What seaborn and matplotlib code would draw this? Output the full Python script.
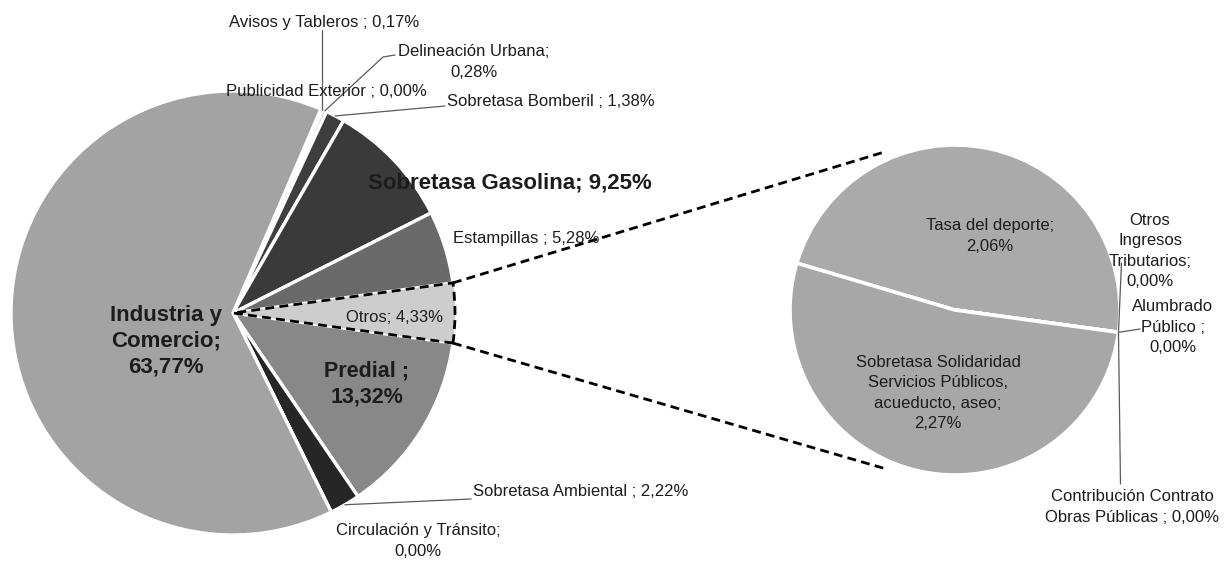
import numpy as np
import matplotlib
matplotlib.use("Agg")
import matplotlib.pyplot as plt
import seaborn as sns

# ---- data -------------------------------------------------------------
# main pie, clockwise order
main_names = ["Publicidad Exterior", "Avisos y Tableros", "Delineación Urbana",
              "Sobretasa Bomberil", "Sobretasa Gasolina", "Estampillas", "Otros",
              "Predial", "Sobretasa Ambiental", "Circulación y Tránsito",
              "Industria y Comercio"]
main_values = [0.00, 0.17, 0.28, 1.38, 9.25, 5.28, 4.33, 13.32, 2.22, 0.00, 63.77]

# breakdown of "Otros", clockwise order
sub_names = ["Tasa del deporte", "Otros Ingresos Tributarios", "Alumbrado Público",
             "Contribución Contrato Obras Públicas",
             "Sobretasa Solidaridad Servicios Públicos, acueducto, aseo"]
sub_values = [2.06, 0.00, 0.00, 0.00, 2.27]

# label templates ("{}" is replaced by the formatted percentage)
main_label_tpl = ["Publicidad Exterior ; {}", "Avisos y Tableros ; {}",
                  "Delineación Urbana;\n{}", "Sobretasa Bomberil ; {}",
                  "Sobretasa Gasolina; {}", "Estampillas ; {}", "Otros; {}",
                  "Predial ;\n{}", "Sobretasa Ambiental ; {}",
                  "Circulación y Tránsito;\n{}", "Industria y\nComercio;\n{}"]
sub_label_tpl = ["Tasa del deporte;\n{}", "Otros\nIngresos\nTributarios;\n{}",
                 "Alumbrado\nPúblico ;\n{}", "Contribución Contrato\nObras Públicas ; {}",
                 "Sobretasa Solidaridad\nServicios Públicos,\nacueducto, aseo;\n{}"]


def pct(v):
    return f"{v:.2f}".replace(".", ",") + "%"


# ---- styling ------------------------------------------------------------
sns.set_theme(style="white")
plt.rcParams["font.family"] = ["Liberation Sans", "DejaVu Sans"]

main_colors = ["#9a9a9a", "#9c9c9c", "#8a8a8a", "#3e3e3e", "#3a3a3a", "#6a6a6a",
               "#cdcdcd", "#888888", "#262626", "#555555", "#a3a3a3"]
sub_colors = ["#aaaaaa", "#aaaaaa", "#aaaaaa", "#aaaaaa", "#a7a7a7"]

W, H = 1224, 562
fig = plt.figure(figsize=(W / 100, H / 100), dpi=100)
ax = fig.add_axes([0, 0, 1, 1])


def P(x, y):
    """pixel position measured from the top-left corner -> data coords"""
    return x, H - y


# ---- main pie -----------------------------------------------------------
c1 = np.array(P(233, 313))
r1 = 222
total = sum(main_values)
i_otros = main_names.index("Otros")
start1 = 360 * (sum(main_values[:i_otros]) + main_values[i_otros] / 2) / total

w1, _ = ax.pie(main_values, colors=main_colors, startangle=start1,
               counterclock=False, center=tuple(c1), radius=r1, frame=True,
               wedgeprops=dict(edgecolor="white", linewidth=2.4))
ow = w1[i_otros]
ow.set_edgecolor("black")
ow.set_linestyle((0, (3.2, 1.9)))
ow.set_linewidth(2.0)
ow.set_zorder(5)

# ---- secondary pie ------------------------------------------------------
c2 = np.array(P(955, 310))
r2 = 165
w2, _ = ax.pie(sub_values, colors=sub_colors, startangle=163.5,
               counterclock=False, center=tuple(c2), radius=r2, frame=True,
               wedgeprops=dict(edgecolor="white", linewidth=2.6))

# ---- connector lines ----------------------------------------------------
for th1, th2 in [(ow.theta2, 114.5), (ow.theta1, -113.5)]:
    a = np.deg2rad(th1)
    b = np.deg2rad(th2)
    p0 = c1 + r1 * np.array([np.cos(a), np.sin(a)])
    p1 = c2 + r2 * 1.05 * np.array([np.cos(b), np.sin(b)])
    ax.plot([p0[0], p1[0]], [p0[1], p1[1]], color="black", lw=2.0,
            ls=(0, (3.2, 1.9)), zorder=6, solid_capstyle="butt")


def rim(wedges, i, center, radius):
    w = wedges[i]
    m = np.deg2rad((w.theta1 + w.theta2) / 2)
    return center + radius * np.array([np.cos(m), np.sin(m)])


# ---- labels -------------------------------------------------------------
main_pos = {
    "Publicidad Exterior": (226, 92, "left", 12, "normal"),
    "Avisos y Tableros": (229, 22, "left", 12, "normal"),
    "Delineación Urbana": (474, 62, "center", 12, "normal"),
    "Sobretasa Bomberil": (447, 101, "left", 12, "normal"),
    "Sobretasa Gasolina": (368, 183, "left", 16, "bold"),
    "Estampillas": (453, 238, "left", 12, "normal"),
    "Otros": (346, 317, "left", 12, "normal"),
    "Predial": (367, 384, "center", 15.5, "bold"),
    "Sobretasa Ambiental": (473, 492, "left", 12, "normal"),
    "Circulación y Tránsito": (418, 541, "center", 12, "normal"),
    "Industria y Comercio": (166, 341, "center", 16, "bold"),
}
sub_pos = {
    "Tasa del deporte": (990, 236, "center", 12, "normal"),
    "Otros Ingresos Tributarios": (1150, 251, "center", 12, "normal"),
    "Alumbrado Público": (1173, 327, "center", 12, "normal"),
    "Contribución Contrato Obras Públicas": (1132, 507, "center", 12, "normal"),
    "Sobretasa Solidaridad Servicios Públicos, acueducto, aseo":
        (938, 393, "center", 12, "normal"),
}


def put(pos, text):
    x, y, ha, fs, fw = pos
    ls = 1.3 if fw == "bold" else 1.42
    ax.text(*P(x, y), text, ha=ha, va="center", fontsize=fs, fontweight=fw,
            color="#1c1c1c", linespacing=ls, multialignment="center", zorder=8)


for name, tpl, v in zip(main_names, main_label_tpl, main_values):
    put(main_pos[name], tpl.format(pct(v)))
for name, tpl, v in zip(sub_names, sub_label_tpl, sub_values):
    put(sub_pos[name], tpl.format(pct(v)))

# ---- leader lines -------------------------------------------------------
lead = dict(color="#5a5a5a", lw=0.9, zorder=7)

p = rim(w1, main_names.index("Avisos y Tableros"), c1, r1)
ax.plot([p[0], p[0]], [p[1], P(0, 30)[1]], **lead)

p = rim(w1, main_names.index("Delineación Urbana"), c1, r1)
q1, q2 = P(383, 57), P(395, 55)
ax.plot([p[0], q1[0], q2[0]], [p[1], q1[1], q2[1]], **lead)

p = rim(w1, main_names.index("Sobretasa Bomberil"), c1, r1)
q = P(445, 106)
ax.plot([p[0], q[0]], [p[1], q[1]], **lead)

p = rim(w1, main_names.index("Sobretasa Ambiental"), c1, r1)
q = P(471, 499)
ax.plot([p[0], q[0]], [p[1], q[1]], **lead)

p = rim(w2, sub_names.index("Otros Ingresos Tributarios"), c2, r2)
ax.plot([p[0], p[0] + 3], [p[1], P(0, 263)[1]], **lead)
p = rim(w2, sub_names.index("Alumbrado Público"), c2, r2)
q = P(1140, 329)
ax.plot([p[0], q[0]], [p[1], q[1]], **lead)
p = rim(w2, sub_names.index("Contribución Contrato Obras Públicas"), c2, r2)
ax.plot([p[0], p[0] + 2], [p[1], P(0, 484)[1]], **lead)

ax.set_xlim(0, W)
ax.set_ylim(0, H)
ax.set_aspect("equal")
ax.axis("off")

fig.savefig("out.png", dpi=100, facecolor="white")
